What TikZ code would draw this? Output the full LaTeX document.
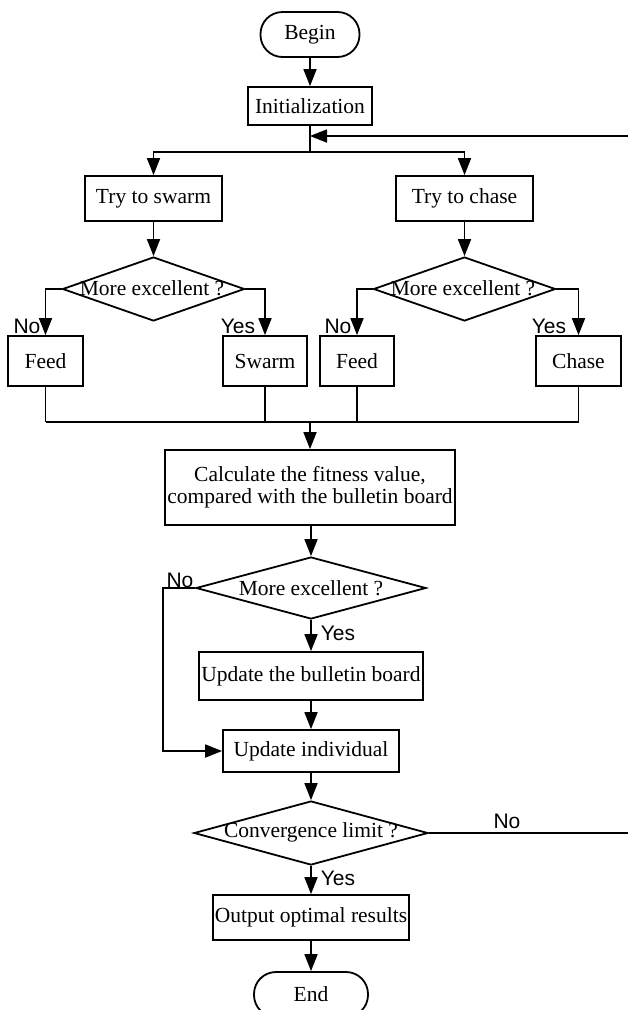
\documentclass[tikz,border=0pt]{standalone}
\usepackage{fontspec}
\setmainfont{Liberation Serif}
\newfontfamily\lblfont{Liberation Sans}
\usetikzlibrary{shapes.geometric,arrows.meta}
\tikzset{
  base/.style={draw=black, line width=1.8pt, inner sep=0pt, align=center, font=\fontsize{21.5}{22}\selectfont},
  box/.style={base, rectangle},
  term/.style={base, rectangle, rounded corners=22pt},
  dia/.style={draw=black, line width=1.8pt, diamond, inner sep=0pt},
  diatext/.style={inner sep=0pt, font=\fontsize{21.5}{22}\selectfont},
  lbl/.style={inner sep=0pt, font=\lblfont\fontsize{21}{22}\selectfont},
  conn/.style={line width=1.8pt},
  arr/.style={line width=1.8pt, -{Triangle[length=17pt,width=13pt]}},
}
\begin{document}
\begin{tikzpicture}[x=1pt,y=-1pt]
\useasboundingbox (0,0) rectangle (627,1010);
% main column
\node[term, minimum width=99, minimum height=45] (begin) at (310,34.5) {Begin};
\node[box, minimum width=124, minimum height=38] (init) at (310,106) {Initialization};
\coordinate (fbin) at (310,136);
\coordinate (split) at (310,152);
\node[box, minimum width=137, minimum height=45] (trys) at (153.5,198.5) {Try to swarm};
\node[box, minimum width=137, minimum height=45] (tryc) at (464.5,198.5) {Try to chase};
\node[dia, minimum width=182, minimum height=64] (d1) at (153.5,289) {};
\node[diatext] (d1t) at (152,288) {More excellent ?};
\node[dia, minimum width=182, minimum height=64] (d2) at (464.5,289) {};
\node[diatext] (d2t) at (463,288) {More excellent ?};
\node[box, minimum width=75, minimum height=50] (feed1) at (45.5,361) {Feed};
\node[box, minimum width=84, minimum height=50] (swarm) at (265,361) {Swarm};
\node[box, minimum width=74, minimum height=50] (feed2) at (357,361) {Feed};
\node[box, minimum width=85, minimum height=50] (chase) at (578.5,361) {Chase};
\coordinate (joinL) at (45.5,422);
\coordinate (joinR) at (578.5,422);
\coordinate (joinM) at (310,422);
\node[box, minimum width=290, minimum height=75] (calc) at (310,487.5) {Calculate the fitness value,\\compared with the bulletin board};
\node[dia, minimum width=230, minimum height=62] (d3) at (311,588) {};
\node[diatext] (d3t) at (311,588) {More excellent ?};
\node[box, minimum width=224, minimum height=48] (bull) at (311,676) {Update the bulletin board};
\node[box, minimum width=176, minimum height=42] (indiv) at (311,751) {Update individual};
\coordinate (loopc) at (163,588);
\node[dia, minimum width=234, minimum height=64] (conv) at (311,833) {};
\node[diatext] (convt) at (311,832) {Convergence limit ?};
\node[box, minimum width=196, minimum height=45] (out) at (311,917.5) {Output optimal results};
\node[term, minimum width=114, minimum height=45] (end) at (311,994.5) {End};
\coordinate (fbr1) at (645,833);
\coordinate (fbr2) at (645,136);

% connectors
\draw[arr] (begin) -- (init);
\draw[conn] (init.south) -- (split);
\draw[arr] (split) -| (trys.north);
\draw[arr] (split) -| (tryc.north);
\draw[arr] (trys) -- (d1);
\draw[arr] (tryc) -- (d2);
\draw[arr] (d1.west) -| (feed1.north);
\draw[arr] (d1.east) -| (swarm.north);
\draw[arr] (d2.west) -| (feed2.north);
\draw[arr] (d2.east) -| (chase.north);
\draw[conn] (feed1.south) -- (joinL);
\draw[conn] (swarm.south) -- (swarm.south |- joinL);
\draw[conn] (feed2.south) -- (feed2.south |- joinL);
\draw[conn] (chase.south) -- (joinR);
\draw[conn] (joinL) -- (joinR);
\draw[arr] (joinM) -- (calc.north);
\draw[arr] (calc.south -| d3.north) -- (d3.north);
\draw[arr] (d3.south) -- (bull.north);
\draw[arr] (bull) -- (indiv);
\draw[arr] (d3.west) -- (loopc) |- (indiv.west);
\draw[arr] (indiv) -- (conv);
\draw[arr] (conv.south) -- (out.north);
\draw[arr] (out) -- (end);
\draw[arr] (conv.east) -- (fbr1) -- (fbr2) -- (fbin);

% labels
\node[lbl] (l1) at (27,326) {No};
\node[lbl] (l2) at (238,326) {Yes};
\node[lbl] (l3) at (338,326) {No};
\node[lbl] (l4) at (549,326) {Yes};
\node[lbl] (l5) at (180,580) {No};
\node[lbl] (l6) at (338,633) {Yes};
\node[lbl] (l7) at (507,821) {No};
\node[lbl] (l8) at (338,878) {Yes};
\end{tikzpicture}
\end{document}
